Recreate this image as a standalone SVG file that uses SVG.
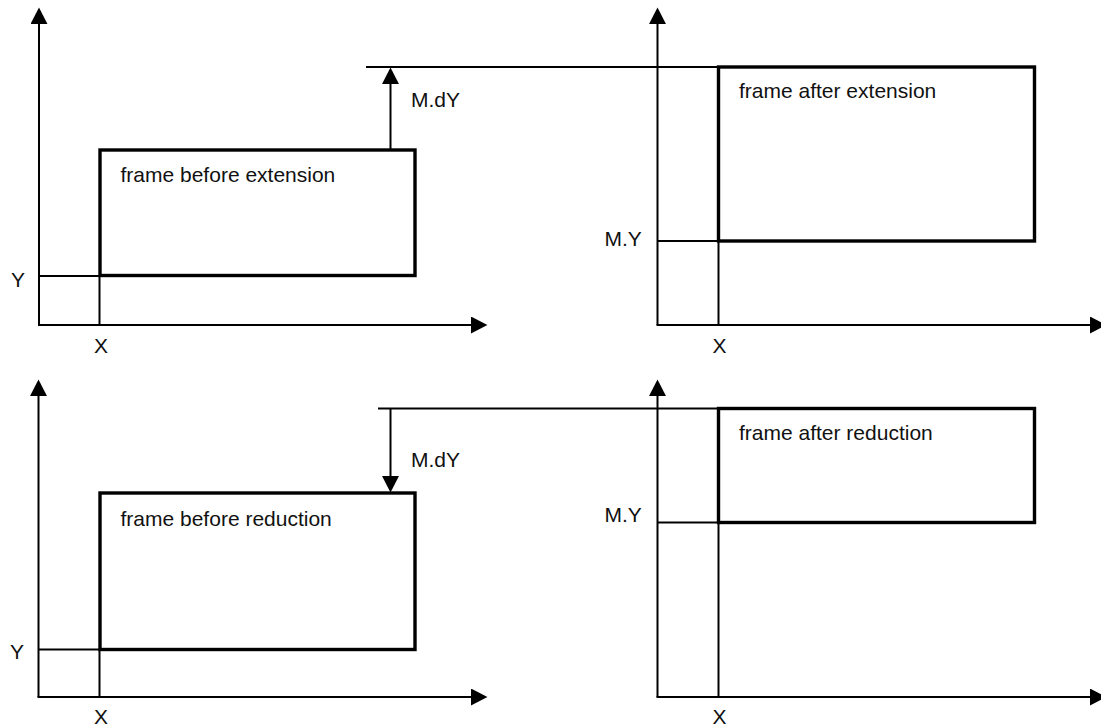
<svg xmlns="http://www.w3.org/2000/svg" width="1101" height="727" viewBox="0 0 1101 727">
  <style>
    .thin { stroke: #000; stroke-width: 2; fill: none; }
    .frame { stroke: #000; stroke-width: 3.4; fill: none; }
    .lbl { font-family: "Liberation Sans", Arial, sans-serif; font-size: 21px; fill: #111; }
    .arr { marker-end: url(#ah); }
  </style>
  <defs>
    <marker id="ah" markerUnits="userSpaceOnUse" markerWidth="17" markerHeight="17" viewBox="0 0 16 16" refX="1" refY="8" orient="auto">
      <path d="M0,0 L15.5,8 L0,16 Z" fill="#000"/>
    </marker>
  </defs>

  <g id="connectors">
    <!-- top-left axes -->
    <line class="thin arr" x1="39" y1="325" x2="39" y2="23"/>
    <line class="thin arr" x1="38" y1="325" x2="472" y2="325"/>
    <!-- top-left guide lines -->
    <line class="thin" x1="39" y1="276" x2="100" y2="276"/>
    <line class="thin" x1="99.5" y1="276" x2="99.5" y2="325"/>
    <!-- top M.dY arrow and level line -->
    <line class="thin arr" x1="390.5" y1="150" x2="390.5" y2="83"/>
    <line class="thin" x1="366" y1="67" x2="1034" y2="67"/>

    <!-- top-right axes -->
    <line class="thin arr" x1="657.5" y1="325" x2="657.5" y2="23"/>
    <line class="thin arr" x1="656.5" y1="325" x2="1091" y2="325"/>
    <line class="thin" x1="657.5" y1="241" x2="719" y2="241"/>
    <line class="thin" x1="718.5" y1="241" x2="718.5" y2="325"/>

    <!-- bottom-left axes -->
    <line class="thin arr" x1="38.5" y1="697" x2="38.5" y2="395"/>
    <line class="thin arr" x1="37.5" y1="697" x2="472" y2="697"/>
    <line class="thin" x1="38.5" y1="649.5" x2="100" y2="649.5"/>
    <line class="thin" x1="99.5" y1="649.5" x2="99.5" y2="697"/>
    <!-- bottom M.dY arrow and level line -->
    <line class="thin" x1="378" y1="408.5" x2="1034" y2="408.5"/>
    <line class="thin arr" x1="390.5" y1="408.5" x2="390.5" y2="477"/>

    <!-- bottom-right axes -->
    <line class="thin arr" x1="657.5" y1="697" x2="657.5" y2="395"/>
    <line class="thin arr" x1="656.5" y1="697" x2="1091" y2="697"/>
    <line class="thin" x1="657.5" y1="522.5" x2="719" y2="522.5"/>
    <line class="thin" x1="718.5" y1="522.5" x2="718.5" y2="697"/>
  </g>

  <g id="frame-before-extension">
    <rect class="frame" x="100" y="150" width="315" height="125.5"/>
    <text class="lbl" x="120.5" y="182">frame before extension</text>
  </g>
  <g id="frame-after-extension">
    <rect class="frame" x="718.5" y="67" width="316" height="174"/>
    <text class="lbl" x="739" y="98">frame after extension</text>
  </g>
  <g id="frame-before-reduction">
    <rect class="frame" x="100" y="493" width="315" height="156.5"/>
    <text class="lbl" x="120.5" y="526">frame before reduction</text>
  </g>
  <g id="frame-after-reduction">
    <rect class="frame" x="718.5" y="408.5" width="316" height="114"/>
    <text class="lbl" x="739" y="440">frame after reduction</text>
  </g>

  <g id="labels">
    <text class="lbl" x="11" y="287">Y</text>
    <text class="lbl" x="94" y="353">X</text>
    <text class="lbl" x="411" y="107">M.dY</text>
    <text class="lbl" x="604.5" y="246">M.Y</text>
    <text class="lbl" x="712.5" y="353">X</text>
    <text class="lbl" x="10" y="659">Y</text>
    <text class="lbl" x="94" y="724">X</text>
    <text class="lbl" x="411" y="467">M.dY</text>
    <text class="lbl" x="604.5" y="522">M.Y</text>
    <text class="lbl" x="712.5" y="724">X</text>
  </g>
</svg>
